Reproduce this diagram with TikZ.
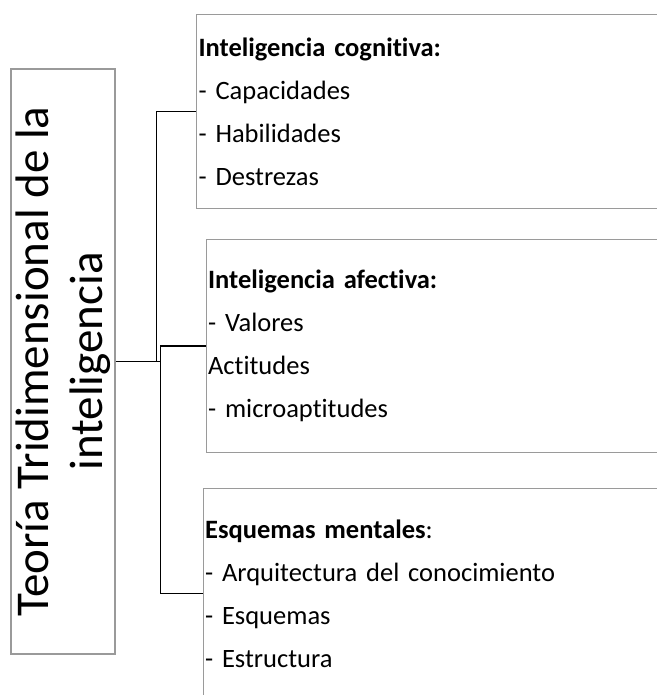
\documentclass[tikz,border=0pt]{standalone}
\usepackage{fontspec}
\setmainfont{Carlito}[Ligatures=NoCommon]
\definecolor{boxgray}{HTML}{9A9A9A}
\tikzset{
  mainbox/.style={draw=boxgray, line width=1.2pt, rotate=90, align=center,
    inner sep=0pt, minimum width=585pt, minimum height=104pt,
    font=\fontsize{47}{54}\selectfont},
  itembox/.style={draw=boxgray, line width=1.2pt, anchor=north west, align=left,
    inner xsep=2pt, inner ysep=0pt, font=\fontsize{26.5}{43}\selectfont},
  conn/.style={draw=black, line width=1.6pt}
}
\begin{document}
\begin{tikzpicture}[x=1pt,y=-1pt]
\useasboundingbox (0,0) rectangle (656,695);
\node[mainbox] (T) at (63,361.5) {Teoría Tridimensional de la\\inteligencia};
\node[itembox, text width=466pt, minimum height=194pt] (C1) at (196,14)
  {\textbf{Inteligencia cognitiva:}\\- Capacidades\\- Habilidades\\- Destrezas};
\node[itembox, text width=456pt, minimum height=213pt] (C2) at (205.5,239)
  {\textbf{Inteligencia afectiva:}\\- Valores\\Actitudes\\- microaptitudes};
\node[itembox, text width=461pt, minimum height=210pt] (C3) at (202.5,488)
  {\textbf{Esquemas mentales}:\\- Arquitectura del conocimiento\\- Esquemas\\- Estructura};
\draw[conn] (T.south) -- ++(41,0) coordinate (j1) |- (C1.west);
\draw[conn] (j1) -- ++(4,0) coordinate (j2) |- (C2.west);
\draw[conn] (j2) |- (C3.west);
\end{tikzpicture}
\end{document}
